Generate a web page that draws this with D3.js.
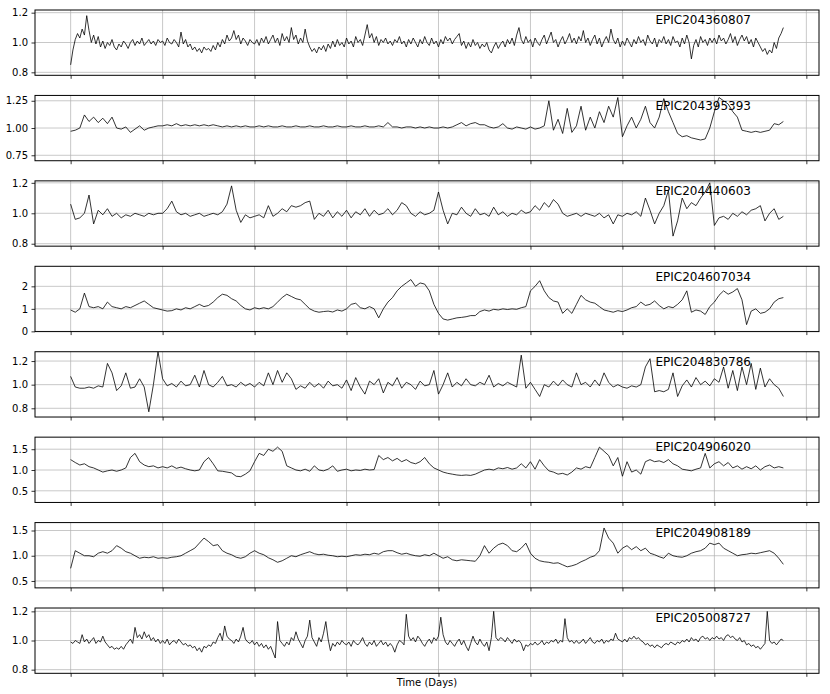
<!DOCTYPE html>
<html>
<head>
<meta charset="utf-8">
<script src="https://cdn.jsdelivr.net/npm/d3@7"></script>
<style>
  html, body { margin: 0; padding: 0; background: #fff; }
  svg { display: block; }
  text { font-family: "DejaVu Sans", sans-serif; }
</style>
</head>
<body>
<svg id="chart" width="830" height="694"></svg>
<script>
// ---------------- DATA ----------------
const starIds = ["EPIC204360807", "EPIC204395393", "EPIC204440603", "EPIC204607034",
                 "EPIC204830786", "EPIC204906020", "EPIC204908189", "EPIC205008727"];
// days between samples for each series (samples start at day 0)
const timeSteps = [0.25, 0.5, 0.5, 0.5, 0.5, 0.5, 0.5, 0.25];
const xTickValues = [0, 10, 20, 30, 40, 50, 60, 70, 80];
const xLabel = "Time (Days)";

const flux1 = [
  0.85,0.95,1.02,1.06,1.03,1.09,1.05,1.18,1.08,1.00,1.05,0.99,1.04,0.97,1.01,0.96,1.00,0.98,1.02,0.97,
  0.95,0.99,0.97,1.01,0.99,0.96,1.00,1.02,0.98,1.01,0.99,1.03,0.98,1.00,1.02,0.99,1.01,0.98,1.02,1.00,
  1.01,0.98,1.03,1.00,0.99,1.02,1.00,0.97,1.07,0.99,1.02,0.97,0.99,0.95,0.97,0.94,0.96,0.93,0.97,0.95,
  0.96,0.94,0.98,0.95,1.00,0.97,1.02,0.99,1.05,1.01,1.03,1.08,1.02,1.05,0.99,1.03,1.01,0.98,1.02,1.00,
  0.99,1.02,0.98,1.03,1.00,1.04,0.99,1.02,1.05,1.00,1.03,0.98,1.06,1.01,1.04,1.00,1.10,1.02,1.05,0.99,
  1.03,1.00,1.09,1.01,0.97,0.94,0.96,0.93,0.97,0.95,0.98,0.94,0.99,0.96,1.01,0.97,1.02,0.98,1.00,0.97,
  1.03,0.99,1.01,0.97,1.04,1.00,1.02,0.98,1.05,1.12,1.03,1.06,1.00,1.04,0.98,1.02,1.00,1.03,0.99,1.01,
  0.98,1.02,1.00,1.04,0.99,1.01,0.97,1.02,0.99,1.03,1.00,0.97,1.02,0.99,1.04,1.00,0.98,1.03,0.99,1.01,
  0.97,1.02,0.99,1.04,1.01,1.03,0.99,1.02,1.04,1.06,0.98,1.01,0.96,1.00,0.97,1.02,0.98,1.00,0.96,0.99,
  0.97,1.00,0.95,0.93,0.97,1.00,0.96,0.99,1.01,0.97,1.02,0.99,1.03,0.98,1.05,1.10,1.02,0.99,1.04,1.00,
  1.02,0.97,1.03,1.00,0.98,1.02,1.05,0.99,1.03,1.07,1.00,1.02,0.97,1.01,1.04,0.99,1.02,1.06,1.00,1.03,
  0.99,1.04,1.01,1.08,1.00,1.03,0.98,1.02,1.05,0.99,1.03,0.97,1.01,1.04,1.00,1.09,1.02,0.99,1.03,0.97,
  1.01,0.98,1.03,1.00,0.97,1.02,0.99,1.04,1.00,1.02,0.98,1.05,1.01,0.99,1.03,0.97,1.02,1.00,1.04,0.99,
  1.02,0.98,1.04,1.00,1.01,0.97,1.03,0.99,1.05,1.00,0.89,0.98,1.02,0.97,1.04,1.00,1.02,0.98,1.03,1.00,
  1.03,0.99,1.05,1.01,1.03,0.99,1.02,1.06,1.00,1.04,0.98,1.02,1.05,1.01,1.04,0.99,1.02,0.97,1.03,1.00,
  0.97,0.94,0.96,0.92,0.95,0.93,1.00,0.96,1.03,1.06,1.10];
const flux2 = [
  0.97,0.98,1.00,1.12,1.06,1.10,1.05,1.09,1.04,1.10,
  1.00,0.99,1.01,0.96,0.99,1.02,0.98,1.00,1.01,1.02,
  1.02,1.03,1.02,1.04,1.02,1.03,1.02,1.03,1.02,1.03,
  1.02,1.03,1.02,1.01,1.02,1.01,1.02,1.01,1.02,1.01,
  1.01,1.02,1.01,1.02,1.01,1.01,1.02,1.01,1.01,1.02,
  1.01,1.01,1.02,1.01,1.01,1.02,1.01,1.01,1.02,1.01,
  1.01,1.02,1.01,1.01,1.02,1.01,1.01,1.02,1.01,1.05,
  1.01,1.01,1.00,1.01,1.01,1.00,1.01,1.00,1.01,1.00,
  1.00,1.01,1.00,1.01,1.03,1.05,1.02,1.04,1.05,1.03,
  1.03,1.01,1.00,1.01,1.04,1.00,0.99,1.01,1.00,0.99,
  1.01,0.99,1.00,1.02,1.25,0.98,1.08,0.95,1.18,0.96,
  1.02,1.20,0.98,1.10,1.00,1.15,1.05,1.20,1.10,1.28,
  0.92,1.02,1.10,1.00,1.08,1.20,1.05,1.00,1.10,1.27,
  1.15,1.05,0.95,0.92,0.93,0.91,0.90,0.89,0.90,1.00,
  1.15,1.28,1.25,1.22,1.15,1.10,0.98,0.97,0.96,0.97,
  0.96,0.97,0.98,1.04,1.03,1.06];
const flux3 = [
  1.06,0.96,0.97,1.00,1.12,0.93,1.02,0.99,1.03,0.98,
  1.00,0.97,0.99,0.98,1.00,0.99,0.98,1.00,0.99,1.00,
  1.00,1.03,1.08,1.01,0.99,1.00,0.98,0.99,1.00,0.98,
  0.99,1.00,0.99,1.01,1.06,1.18,1.02,0.94,0.99,0.97,
  0.98,0.99,0.97,1.05,0.98,1.00,1.03,1.01,1.05,1.04,
  1.05,1.07,1.08,0.96,1.00,0.98,1.02,0.97,1.01,0.98,
  1.02,0.97,1.01,0.99,1.03,0.98,1.02,0.99,1.00,1.03,
  0.99,1.02,1.07,1.05,1.00,0.98,1.01,0.99,1.00,1.02,
  1.14,1.02,0.93,1.00,0.99,1.04,1.00,0.98,1.03,0.99,
  1.00,0.98,1.04,0.99,1.01,0.98,1.00,0.99,1.02,1.00,
  1.01,1.05,1.02,1.07,1.04,1.09,1.06,1.00,0.98,0.99,
  1.00,0.98,1.00,0.99,0.98,1.00,0.97,0.99,0.93,0.99,
  0.98,1.00,0.99,1.01,0.98,1.10,1.02,0.93,1.00,1.05,
  1.15,0.85,0.95,1.10,1.03,1.07,1.05,1.10,1.14,1.20,
  0.92,0.97,0.98,0.96,1.00,0.98,1.01,0.99,1.02,1.03,
  1.05,0.95,1.00,1.03,0.96,0.98];
const flux4 = [
  0.95,0.85,1.00,1.70,1.10,1.05,1.10,1.00,1.30,1.10,
  1.05,1.00,1.10,1.05,1.15,1.25,1.35,1.20,1.05,1.00,
  0.95,0.90,0.92,1.00,0.95,1.05,1.00,1.10,1.20,1.10,
  1.15,1.30,1.50,1.65,1.60,1.45,1.35,1.15,1.00,0.95,
  1.05,1.00,1.05,1.00,1.10,1.30,1.50,1.65,1.55,1.45,
  1.40,1.20,1.00,0.90,0.85,0.88,0.90,0.86,0.95,0.90,
  1.00,1.20,1.25,1.05,1.00,1.10,1.00,0.60,1.00,1.30,
  1.50,1.80,2.00,2.15,2.30,2.00,2.15,2.10,1.80,1.20,
  0.80,0.55,0.50,0.55,0.60,0.62,0.65,0.70,0.70,0.88,
  0.95,0.90,0.98,0.95,1.00,0.97,1.00,0.98,1.05,1.10,
  1.80,2.00,2.25,1.80,1.50,1.35,1.30,0.80,1.00,0.80,
  1.20,1.60,1.40,1.30,1.25,1.10,0.95,0.90,0.85,0.92,
  0.88,0.95,1.05,1.10,1.30,1.15,1.20,1.35,1.15,1.00,
  1.10,1.05,1.20,1.40,1.80,0.85,0.95,0.90,0.75,1.10,
  1.30,1.60,1.80,1.65,1.75,1.90,1.40,0.30,0.90,1.00,
  0.80,0.85,1.00,1.30,1.45,1.50];
const flux5 = [
  1.07,0.98,0.97,0.97,0.98,0.97,0.99,0.98,1.18,1.10,
  0.95,0.99,1.10,0.97,0.98,1.05,0.98,0.77,1.00,1.28,
  1.05,0.99,1.01,0.98,1.03,0.99,1.00,1.08,0.98,1.12,
  1.00,0.98,1.02,1.07,0.99,1.00,0.98,1.02,0.99,1.01,
  0.98,1.02,0.99,1.10,1.00,1.12,1.02,1.10,1.05,0.96,
  0.99,0.97,1.02,0.98,1.01,0.97,1.03,0.99,1.00,0.97,
  1.04,0.95,1.06,0.98,0.92,1.03,1.00,1.05,0.93,1.02,
  0.99,1.06,0.97,1.02,1.00,0.96,1.03,0.99,1.00,1.12,
  0.92,1.00,1.10,0.98,1.02,0.99,1.05,1.00,0.99,1.02,
  1.00,1.08,0.98,1.01,0.99,1.02,1.00,0.98,1.25,0.97,
  1.02,0.96,0.90,1.00,0.98,1.03,0.99,1.04,1.00,0.98,
  1.10,1.00,1.02,0.98,1.04,0.99,1.10,1.02,0.98,1.00,
  0.98,0.97,0.99,0.98,1.00,1.15,1.22,0.94,0.95,0.94,
  0.96,1.10,0.90,0.99,1.04,0.98,1.06,1.00,1.03,0.99,
  1.05,1.02,1.15,0.97,1.12,0.95,1.15,1.00,1.18,0.96,
  1.14,0.98,1.05,1.00,0.97,0.90];
const flux6 = [
  1.25,1.18,1.12,1.15,1.08,1.05,1.00,0.95,0.98,1.00,
  0.97,1.00,1.05,1.30,1.40,1.20,1.12,1.08,1.10,1.05,
  1.08,1.05,1.10,1.04,1.07,1.03,1.00,0.98,1.00,1.20,
  1.30,1.15,0.98,0.97,0.95,0.93,0.85,0.84,0.90,0.98,
  1.20,1.40,1.35,1.50,1.45,1.55,1.45,1.10,1.05,1.00,
  0.98,1.02,0.97,1.10,1.00,0.98,1.02,1.10,0.97,1.00,
  1.02,0.98,1.00,0.99,1.02,1.00,1.01,1.35,1.25,1.30,
  1.22,1.28,1.20,1.25,1.18,1.15,1.20,1.30,1.15,1.05,
  1.00,0.95,0.92,0.90,0.88,0.87,0.88,0.87,0.90,0.95,
  1.00,1.02,1.00,1.05,1.03,1.06,1.02,1.05,1.15,1.05,
  1.20,1.02,1.25,1.10,0.98,0.95,0.90,0.92,0.88,0.95,
  1.05,1.02,1.08,1.05,1.30,1.55,1.45,1.35,1.10,1.30,
  0.85,1.20,0.95,1.00,0.90,1.20,1.25,1.20,1.22,1.18,
  1.25,1.15,1.10,1.02,1.00,0.98,1.02,1.05,1.40,1.05,
  1.15,1.20,1.10,1.18,1.05,1.10,1.02,1.08,1.03,1.10,
  1.00,1.08,1.12,1.05,1.08,1.05];
const flux7 = [
  0.75,1.10,1.05,1.00,1.00,0.98,1.05,1.08,1.05,1.10,
  1.20,1.15,1.08,1.05,1.00,0.95,0.97,0.96,0.98,0.95,
  0.96,0.95,0.97,0.98,1.00,1.05,1.10,1.15,1.25,1.35,
  1.28,1.20,1.22,1.10,1.05,1.02,0.97,0.95,0.98,1.05,
  1.10,1.05,1.02,0.96,0.92,0.87,0.90,0.95,1.00,0.98,
  1.02,1.05,1.08,1.04,1.02,1.03,1.01,1.00,0.98,0.99,
  0.98,1.00,1.02,1.01,1.03,1.02,1.05,1.03,1.08,1.10,
  1.10,1.06,1.03,1.05,1.02,1.00,0.99,1.02,1.00,1.05,
  1.00,0.95,0.98,0.92,0.90,0.92,0.91,0.90,0.89,1.00,
  1.20,1.05,1.15,1.22,1.25,1.20,1.10,1.08,1.15,1.25,
  1.05,0.95,0.90,0.88,0.87,0.85,0.86,0.82,0.78,0.80,
  0.83,0.88,0.92,0.97,1.00,1.10,1.55,1.35,1.25,1.05,
  1.15,1.20,1.12,1.18,1.10,1.15,1.05,1.02,0.98,0.95,
  1.05,1.00,0.98,0.97,1.00,1.05,1.08,1.10,1.15,1.25,
  1.22,1.25,1.15,1.10,1.05,1.00,1.02,1.03,1.05,1.04,
  1.06,1.08,1.10,1.05,0.95,0.83];
const flux8 = [
  0.99,0.98,1.00,0.99,0.98,1.04,0.99,1.01,0.98,1.00,1.02,0.98,1.00,0.99,1.03,0.99,0.97,0.95,0.96,0.94,
  0.95,0.94,0.96,0.94,0.97,0.99,1.01,0.98,1.09,1.02,1.04,1.01,1.06,1.02,1.04,1.00,1.02,0.99,1.01,0.98,
  1.00,0.98,1.01,0.97,0.99,1.00,0.98,1.01,0.99,0.97,0.98,0.96,0.97,0.95,0.96,0.93,0.95,0.92,0.96,0.95,
  0.97,0.96,0.99,0.98,1.02,1.05,1.00,1.10,1.03,1.01,1.00,0.98,1.01,0.99,1.03,1.09,1.01,0.99,0.98,1.00,
  0.97,0.99,0.96,0.98,0.95,0.97,0.94,0.96,0.92,0.88,1.13,1.00,0.98,0.96,0.99,0.97,1.02,1.00,1.06,1.01,
  0.98,0.95,1.00,1.03,1.14,1.02,0.99,0.96,1.02,0.99,1.05,1.13,1.01,0.93,0.98,0.96,0.99,0.97,1.00,0.98,
  0.97,0.99,0.96,1.00,0.98,0.97,0.99,1.02,0.98,0.96,0.99,0.97,1.00,0.96,0.98,1.00,0.97,0.99,0.96,0.98,
  0.96,0.92,0.97,1.00,0.99,0.97,1.18,1.03,1.00,1.02,0.99,1.03,1.01,0.98,0.96,0.99,1.01,0.98,1.02,1.00,
  1.03,1.16,1.04,0.99,0.97,1.00,0.98,0.96,0.99,1.01,0.97,1.00,0.96,0.93,0.98,1.03,0.99,0.97,1.01,0.98,
  0.96,0.99,0.93,1.02,1.20,1.02,1.00,1.02,1.01,0.99,1.02,1.00,0.98,1.01,0.99,1.00,0.98,0.93,0.97,0.96,
  0.98,0.97,0.99,0.97,0.98,1.00,0.97,0.99,0.98,1.00,0.99,1.01,0.98,1.00,0.99,1.15,1.02,0.99,1.00,0.98,
  1.00,0.98,0.99,1.01,0.98,1.00,1.02,0.99,0.98,1.00,0.99,1.01,0.98,1.00,0.99,1.01,1.00,1.05,1.01,1.00,
  0.99,1.01,0.99,1.02,1.01,1.03,1.01,1.02,1.00,0.99,0.97,0.98,0.96,0.97,0.95,0.97,0.96,0.95,0.97,0.98,
  0.97,0.99,0.98,0.97,0.99,0.98,1.00,0.99,1.01,0.99,1.02,1.00,1.01,0.99,1.02,1.03,1.01,1.02,1.00,1.02,
  1.01,1.03,1.01,1.02,1.00,1.03,1.04,1.02,1.03,1.01,1.00,1.02,0.99,1.00,0.97,0.98,0.96,0.97,0.95,0.96,
  0.94,0.96,0.98,1.20,1.00,0.98,0.99,0.97,0.99,1.01,1.00];

const fluxSeries = [flux1, flux2, flux3, flux4, flux5, flux6, flux7, flux8];
const yDomains = [[0.78, 1.218], [0.70, 1.299], [0.784, 1.213], [-0.01, 2.89],
                  [0.726, 1.279], [0.22, 1.79], [0.363, 1.657], [0.775, 1.223]];
const yTickValues = [[0.8, 1.0, 1.2], [0.75, 1.00, 1.25], [0.8, 1.0, 1.2], [0, 1, 2],
                     [0.8, 1.0, 1.2], [0.5, 1.0, 1.5], [0.5, 1.0, 1.5], [0.8, 1.0, 1.2]];
const yTickFormats = [".1f", ".2f", ".1f", "d", ".1f", ".1f", ".1f", ".1f"];

// ---------------- LAYOUT ----------------
const svg = d3.select("#chart");
const left = 35, right = 819;
const firstTop = 10, panelStep = 85.43, panelH = 65.3;

const x = d3.scaleLinear().domain([-3.875, 81.375]).range([left, right]);

fluxSeries.forEach((vals, k) => {
  const top = firstTop + k * panelStep;
  const bottom = top + panelH;
  const y = d3.scaleLinear().domain(yDomains[k]).range([bottom, top]);
  const step = timeSteps[k];
  const g = svg.append("g");

  const clipId = "clip" + k;
  svg.append("clipPath").attr("id", clipId).append("rect")
    .attr("x", left).attr("y", top).attr("width", right - left).attr("height", panelH);

  // grid
  g.append("g").selectAll("line").data(xTickValues).join("line")
    .attr("x1", d => x(d)).attr("x2", d => x(d))
    .attr("y1", top).attr("y2", bottom)
    .attr("stroke", "#b0b0b0").attr("stroke-opacity", 0.7).attr("stroke-width", 1);
  g.append("g").selectAll("line").data(yTickValues[k]).join("line")
    .attr("x1", left).attr("x2", right)
    .attr("y1", d => y(d)).attr("y2", d => y(d))
    .attr("stroke", "#b0b0b0").attr("stroke-opacity", 0.7).attr("stroke-width", 1);

  // curve
  const line = d3.line()
    .x((d, i) => x(i * step))
    .y(d => y(d));
  g.append("path").datum(vals)
    .attr("clip-path", `url(#${clipId})`)
    .attr("fill", "none").attr("stroke", "#000").attr("stroke-width", 0.8)
    .attr("stroke-linejoin", "round")
    .attr("d", line);

  // axes
  const yAxis = d3.axisLeft(y).tickValues(yTickValues[k])
    .tickFormat(d3.format(yTickFormats[k])).tickSize(3.5).tickPadding(3.5);
  const ya = g.append("g").attr("transform", `translate(${left},0)`).call(yAxis);
  ya.select(".domain").remove();
  ya.selectAll("text").attr("font-size", 10).attr("font-family", "DejaVu Sans, sans-serif").attr("fill", "#000");
  ya.selectAll("line").attr("stroke", "#000").attr("stroke-width", 0.8);

  const xAxis = d3.axisBottom(x).tickValues(xTickValues).tickFormat("").tickSize(3.5);
  const xa = g.append("g").attr("transform", `translate(0,${bottom})`).call(xAxis);
  xa.select(".domain").remove();
  xa.selectAll("line").attr("stroke", "#000").attr("stroke-width", 0.8);

  // frame
  g.append("rect").attr("x", left).attr("y", top)
    .attr("width", right - left).attr("height", panelH)
    .attr("fill", "none").attr("stroke", "#000").attr("stroke-width", 1);

  // star label
  g.append("text").attr("x", 655.5).attr("y", top + 14.3)
    .attr("font-size", 12).attr("fill", "#000").text(starIds[k]);
});

svg.append("text").attr("x", (left + right) / 2).attr("y", 685.5)
  .attr("text-anchor", "middle").attr("font-size", 10).attr("fill", "#000")
  .text(xLabel);
</script>
</body>
</html>
